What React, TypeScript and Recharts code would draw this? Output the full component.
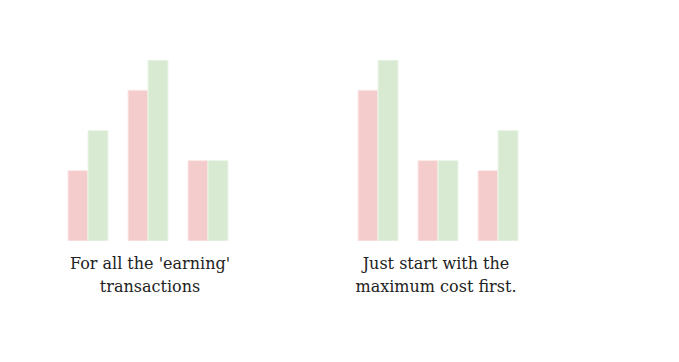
import { BarChart, Bar, XAxis, YAxis } from 'recharts'

// ============================================================================
// Two small paired bar charts with captions
// ============================================================================

const groups = ['A', 'B', 'C']

const earningPink = [7, 15, 8]
const earningGreen = [11, 18, 8]

const maxCostPink = [15, 8, 7]
const maxCostGreen = [18, 8, 11]

const captions = ["For all the 'earning' transactions", 'Just start with the maximum cost first.']

const PINK = '#f4cccc'
const GREEN = '#d9ead3'

function buildRows(pink: number[], green: number[]) {
    return groups.map((name, i) => ({ name, pink: pink[i], green: green[i] }))
}

function MiniChart({ pink, green }: { pink: number[]; green: number[] }) {
    const data = buildRows(pink, green)
    return (
        <BarChart
            width={180}
            height={181}
            data={data}
            margin={{ top: 0, right: 0, bottom: 0, left: 0 }}
            barGap={0}
            barCategoryGap={10}
        >
            <XAxis dataKey="name" hide />
            <YAxis hide domain={[0, 18]} />
            <Bar dataKey="pink" fill={PINK} stroke="#fbeaea" strokeWidth={1} isAnimationActive={false} />
            <Bar dataKey="green" fill={GREEN} stroke="#ecf5e9" strokeWidth={1} isAnimationActive={false} />
        </BarChart>
    )
}

const captionStyle: React.CSSProperties = {
    position: 'absolute',
    top: 252,
    width: 240,
    textAlign: 'center',
    fontFamily: "Georgia, 'DejaVu Serif', serif",
    fontSize: 16,
    lineHeight: '23px',
    color: '#222'
}

export default function App() {
    return (
        <div style={{ position: 'absolute', left: 0, top: 0, width: 679, height: 362, background: '#fff' }}>
            <div style={{ position: 'absolute', left: 58, top: 60 }}>
                <MiniChart pink={earningPink} green={earningGreen} />
            </div>
            <div style={{ position: 'absolute', left: 348, top: 60 }}>
                <MiniChart pink={maxCostPink} green={maxCostGreen} />
            </div>
            <div style={{ ...captionStyle, left: 150 - 120 }}>
                For all the 'earning'<br />transactions
            </div>
            <div style={{ ...captionStyle, left: 436 - 120 }}>
                Just start with the<br />maximum cost first.
            </div>
        </div>
    )
}
